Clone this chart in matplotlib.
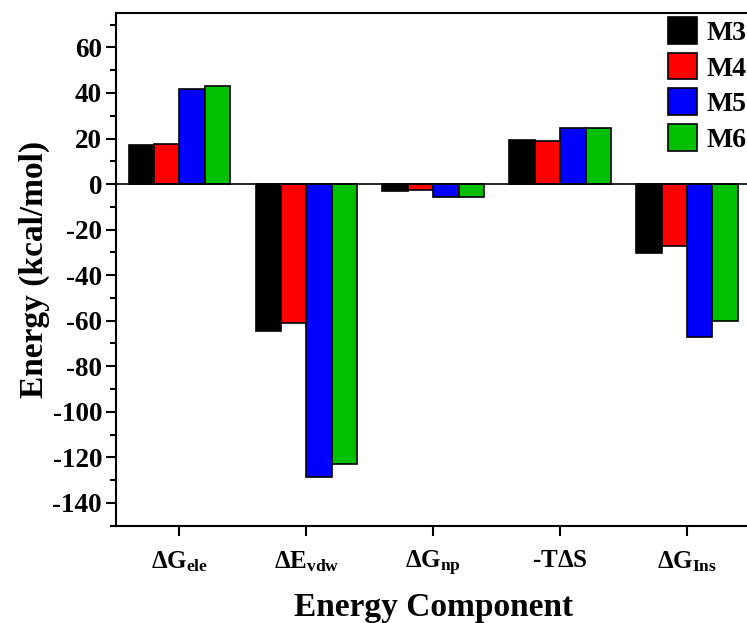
import matplotlib
matplotlib.use("Agg")
import matplotlib.pyplot as plt
import numpy as np

plt.rcParams['font.family'] = 'Liberation Serif'
plt.rcParams['font.weight'] = 'bold'
plt.rcParams['axes.unicode_minus'] = False
plt.rcParams['mathtext.fontset'] = 'custom'
plt.rcParams['mathtext.rm'] = 'Liberation Serif:bold'
plt.rcParams['mathtext.bf'] = 'Liberation Serif:bold'
plt.rcParams['mathtext.it'] = 'Liberation Serif:bold'

components = [r'$\Delta G_{ele}$', r'$\Delta E_{vdw}$', r'$\Delta G_{np}$',
              r'-T$\Delta$S', r'$\Delta G_{Ins}$']

models = ['M3', 'M4', 'M5', 'M6']
m3 = [17.1, -64.6, -3.1, 19.5, -30.4]
m4 = [17.4, -61.1, -2.4, 18.8, -27.2]
m5 = [41.9, -128.8, -5.8, 24.7, -67.2]
m6 = [43.1, -122.9, -5.8, 24.5, -60.2]
colors = ['#000000', '#ff0000', '#0000ff', '#00c000']

fig = plt.figure(figsize=(7.47, 6.23), dpi=100)
ax = fig.add_axes([0.1553, 0.1562, 0.8494, 0.8225])

x = np.arange(len(components))
w = 0.2
for i, (vals, name) in enumerate(zip([m3, m4, m5, m6], models)):
    ax.bar(x + (i - 1.5) * w, vals, w, color=colors[i], edgecolor='black',
           linewidth=1.2, label=name, zorder=3)

ax.axhline(0, color='black', lw=1.2, zorder=4)
ax.set_xlim(-0.5, 4.5)
ax.set_ylim(-150, 75)
ax.set_yticks(np.arange(-140, 61, 20))
ax.set_yticks(np.arange(-150, 75, 10), minor=True)
ax.set_xticks(x)
ax.set_xticklabels(components, fontsize=18)
ax.tick_params(axis='y', labelsize=19.5, width=1.5, length=7, pad=3)
ax.tick_params(axis='y', which='minor', width=1.5, length=4)
ax.tick_params(axis='x', width=1.5, length=7, pad=10)
for s in ax.spines.values():
    s.set_linewidth(1.5)
ax.spines['right'].set_visible(False)

ax.set_xlabel('Energy Component', fontsize=24, fontweight='bold', labelpad=10)
ax.set_ylabel('Energy (kcal/mol)', fontsize=24, fontweight='bold', labelpad=2)

ax.legend(loc='upper left', bbox_to_anchor=(668 / 747, 1 - 17 / 623),
          bbox_transform=fig.transFigure, frameon=False, fontsize=20,
          handlelength=1.04, handleheight=1.1, labelspacing=0.25,
          handletextpad=0.33, borderpad=0, borderaxespad=0)

plt.savefig('out.png', dpi=100)
